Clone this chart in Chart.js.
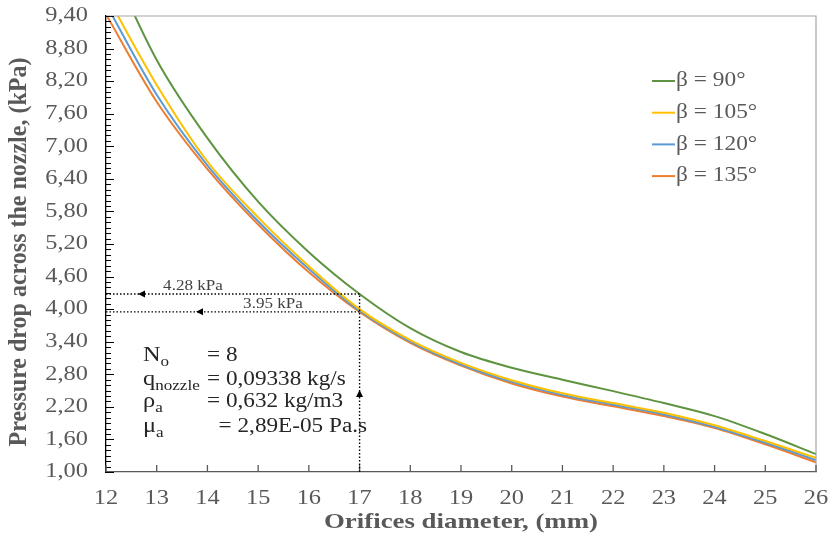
<!DOCTYPE html>
<html>
<head>
<meta charset="utf-8">
<script src="https://cdn.jsdelivr.net/npm/chart.js@4.4.1/dist/chart.umd.min.js"></script>
<style>
  html, body { margin: 0; padding: 0; background: #fff; }
  #wrap { width: 828px; height: 541px; }
</style>
</head>
<body>
<div id="wrap"><canvas id="chart"></canvas></div>
<script>
// orifice diameter (mm)
const diameters = [12, 13, 14, 15, 16, 17, 18, 19, 20, 21, 22, 23, 24, 25, 26];
// pressure drop (kPa)
const beta90  = [10.55, 8.59, 7.15, 5.98, 5.05, 4.28, 3.65, 3.21, 2.92, 2.70, 2.49, 2.27, 2.03, 1.70, 1.33];
const beta105 = [9.80, 8.13, 6.72, 5.69, 4.79, 4.00, 3.43, 3.01, 2.69, 2.45, 2.27, 2.09, 1.86, 1.57, 1.26];
const beta120 = [9.62, 7.95, 6.65, 5.62, 4.74, 3.97, 3.40, 2.98, 2.66, 2.42, 2.24, 2.06, 1.83, 1.54, 1.22];
const beta135 = [9.43, 7.82, 6.58, 5.56, 4.68, 3.95, 3.38, 2.96, 2.63, 2.39, 2.21, 2.03, 1.81, 1.51, 1.18];

const seriesLabels = ['β = 90°', 'β = 105°', 'β = 120°', 'β = 135°'];
const seriesColors = ['#5e9440', '#ffc000', '#5b9bd5', '#ed7d31'];

const yTicks = [1.00, 1.60, 2.20, 2.80, 3.40, 4.00, 4.60, 5.20, 5.80, 6.40, 7.00, 7.60, 8.20, 8.80, 9.40];
const xTicks = [12, 13, 14, 15, 16, 17, 18, 19, 20, 21, 22, 23, 24, 25, 26];

// readings marked on the chart
const markers = [
    { x: 17, y: 4.28, label: '4.28 kPa' },
    { x: 17, y: 3.95, label: '3.95 kPa' }
];
const params = [
    { name: 'N', sub: 'o', value: '= 8' },
    { name: 'q', sub: 'nozzle', value: '= 0,09338 kg/s' },
    { name: 'ρ', sub: 'a', value: '= 0,632 kg/m3' },
    { name: 'μ', sub: 'a', value: '  = 2,89E-05 Pa.s' }
];

const SERIF = '"Liberation Serif", "Times New Roman", serif';
const SX = 1.22; // the original text is a bit wider than plain Times

function wideText(ctx, text, x, y, font, color, align, sx) {
    ctx.save();
    ctx.font = font;
    ctx.fillStyle = color;
    ctx.textAlign = align;
    ctx.textBaseline = 'middle';
    ctx.translate(x, y);
    ctx.scale(sx, 1);
    ctx.fillText(text, 0, 0);
    ctx.restore();
}

function arrowHead(ctx, x, y, dir) {
    ctx.beginPath();
    if (dir === 'left') {
        ctx.moveTo(x, y); ctx.lineTo(x + 7, y - 3.5); ctx.lineTo(x + 7, y + 3.5);
    } else {
        ctx.moveTo(x, y); ctx.lineTo(x - 3.5, y + 7); ctx.lineTo(x + 3.5, y + 7);
    }
    ctx.closePath();
    ctx.fill();
}

const decorPlugin = {
    id: 'decor',
    afterDraw(chart) {
        const ctx = chart.ctx;
        const area = chart.chartArea;
        const xs = chart.scales.x;
        const ys = chart.scales.y;

        // top and right frame
        ctx.save();
        ctx.strokeStyle = '#a6a6a6';
        ctx.lineWidth = 1.2;
        ctx.beginPath();
        ctx.moveTo(area.left, area.top);
        ctx.lineTo(area.right, area.top);
        ctx.lineTo(area.right, area.bottom);
        ctx.stroke();

        // y ticks (inside), minor every 0.1
        ctx.strokeStyle = '#000';
        ctx.lineWidth = 1;
        ctx.beginPath();
        for (let i = 0; i <= 84; i++) {
            const v = 1 + i * 0.1;
            const y = Math.round(ys.getPixelForValue(v)) + 0.5;
            const major = yTicks.some(t => Math.abs(t - v) < 1e-6);
            ctx.moveTo(area.left, y);
            ctx.lineTo(area.left + (major ? 8 : 5), y);
        }
        ctx.stroke();

        // x ticks (inside)
        ctx.strokeStyle = '#595959';
        ctx.lineWidth = 1.3;
        ctx.beginPath();
        xTicks.forEach(t => {
            const x = xs.getPixelForValue(t);
            ctx.moveTo(x, area.bottom);
            ctx.lineTo(x, area.bottom - 7);
        });
        ctx.stroke();
        ctx.restore();

        // tick labels
        const tickFont = '20px ' + SERIF;
        yTicks.forEach(t => {
            wideText(ctx, t.toFixed(2).replace('.', ','), area.left - 18, ys.getPixelForValue(t),
                tickFont, '#595959', 'right', SX);
        });
        xTicks.forEach(t => {
            wideText(ctx, String(t), xs.getPixelForValue(t), area.bottom + 27, tickFont, '#595959', 'center', SX);
        });

        // axis titles
        const titleFont = 'bold 22px ' + SERIF;
        wideText(ctx, 'Orifices diameter, (mm)', (area.left + area.right) / 2, area.bottom + 50,
            titleFont, '#595959', 'center', SX);
        ctx.save();
        ctx.translate(20, (area.top + area.bottom) / 2 + 8);
        ctx.rotate(-Math.PI / 2);
        ctx.font = 'bold 24px ' + SERIF;
        ctx.fillStyle = '#595959';
        ctx.textAlign = 'center';
        ctx.textBaseline = 'middle';
        ctx.scale(1, 1.02);
        ctx.fillText('Pressure drop across the nozzle, (kPa)', 0, 0);
        ctx.restore();

        // legend
        chart.data.datasets.forEach((ds, i) => {
            const y = area.top + 65 + i * 31.7;
            ctx.save();
            ctx.strokeStyle = ds.borderColor;
            ctx.lineWidth = 2;
            ctx.beginPath();
            ctx.moveTo(area.right - 164, y);
            ctx.lineTo(area.right - 141, y);
            ctx.stroke();
            ctx.restore();
            wideText(ctx, ds.label, area.right - 140, y, '20.5px ' + SERIF, '#595959', 'left', 1.14);
        });

        // dotted reading lines
        const x17 = xs.getPixelForValue(markers[0].x);
        ctx.save();
        ctx.strokeStyle = '#000';
        ctx.fillStyle = '#000';
        ctx.lineWidth = 1.4;
        ctx.setLineDash([1.5, 2]);
        ctx.beginPath();
        markers.forEach(m => {
            const y = ys.getPixelForValue(m.y);
            ctx.moveTo(area.left, y);
            ctx.lineTo(x17, y);
        });
        ctx.moveTo(x17, area.bottom);
        ctx.lineTo(x17, ys.getPixelForValue(markers[0].y));
        ctx.stroke();
        ctx.setLineDash([]);
        arrowHead(ctx, area.left + 32, ys.getPixelForValue(markers[0].y), 'left');
        arrowHead(ctx, area.left + 90, ys.getPixelForValue(markers[1].y), 'left');
        arrowHead(ctx, x17, area.bottom - 82, 'up');
        ctx.restore();

        wideText(ctx, markers[0].label, area.left + 87, ys.getPixelForValue(markers[0].y) - 8,
            '14px ' + SERIF, '#404040', 'center', SX);
        wideText(ctx, markers[1].label, area.left + 167, ys.getPixelForValue(markers[1].y) - 8,
            '14px ' + SERIF, '#404040', 'center', SX);

        // parameter block
        const rowY = [340, 364, 386, 411];
        params.forEach((p, i) => {
            const y = area.top + rowY[i];
            const x0 = area.left + 37;
            ctx.save();
            ctx.font = '20px ' + SERIF;
            const w = ctx.measureText(p.name).width * SX;
            ctx.restore();
            wideText(ctx, p.name, x0, y, '20px ' + SERIF, '#262626', 'left', SX);
            wideText(ctx, p.sub, x0 + w, y + 6, '14px ' + SERIF, '#262626', 'left', SX);
            wideText(ctx, p.value, area.left + 101, y, '20px ' + SERIF, '#262626', 'left', 1.16);
        });
    }
};

const seriesValues = [beta90, beta105, beta120, beta135];

new Chart(document.getElementById('chart'), {
    type: 'line',
    data: {
        datasets: seriesValues.map((vals, i) => ({
            label: seriesLabels[i],
            data: diameters.map((d, j) => ({ x: d, y: vals[j] })),
            borderColor: seriesColors[i],
            backgroundColor: seriesColors[i],
            borderWidth: 2,
            pointRadius: 0,
            fill: false,
            cubicInterpolationMode: 'monotone'
        }))
    },
    options: {
        responsive: true,
        maintainAspectRatio: false,
        animation: false,
        layout: { padding: { top: 16, right: 12, left: 0, bottom: 0 } },
        plugins: {
            legend: { display: false },
            tooltip: { enabled: false }
        },
        scales: {
            x: {
                type: 'linear',
                min: 12,
                max: 26,
                grid: { display: false, drawTicks: false },
                border: { color: '#595959', width: 1.3 },
                ticks: { display: false, stepSize: 1 },
                afterFit: s => { s.height = 69; }
            },
            y: {
                min: 1,
                max: 9.4,
                grid: { display: false, drawTicks: false },
                border: { color: '#000', width: 1.3 },
                ticks: { display: false },
                afterFit: s => { s.width = 106; }
            }
        }
    },
    plugins: [decorPlugin]
});
</script>
</body>
</html>
